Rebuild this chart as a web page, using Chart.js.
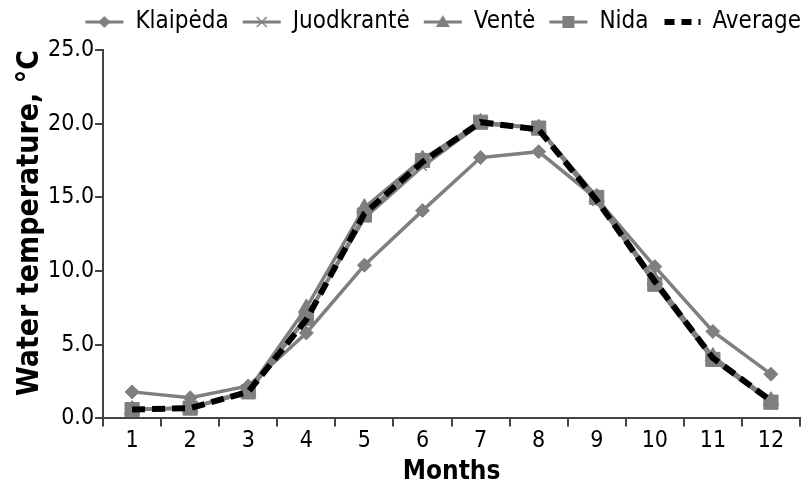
<!DOCTYPE html>
<html>
<head>
<meta charset="utf-8">
<script src="https://cdn.jsdelivr.net/npm/chart.js@4.4.1/dist/chart.umd.min.js"></script>
<style>
  html, body { margin: 0; padding: 0; background: #fff; }
  #wrap { width: 811px; height: 487px; }
</style>
</head>
<body>
<div id="wrap"><canvas id="tempChart" width="811" height="487"></canvas></div>
<script>
// data
const months = ['1', '2', '3', '4', '5', '6', '7', '8', '9', '10', '11', '12'];
const klaipeda   = [1.8, 1.4, 2.2, 5.8, 10.4, 14.1, 17.7, 18.1, 14.9, 10.3, 5.9, 3.0];
const juodkrante = [0.6, 0.7, 1.8, 6.9, 13.6, 17.1, 20.0, 19.7, 14.7, 9.3, 4.1, 1.2];
const vente      = [0.6, 0.7, 1.9, 7.5, 14.3, 17.6, 20.1, 19.7, 15.0, 9.4, 4.2, 1.2];
const nida       = [0.6, 0.7, 1.8, 6.8, 13.8, 17.5, 20.1, 19.7, 15.0, 9.1, 4.0, 1.1];
const average    = [0.6, 0.7, 1.8, 6.7, 13.9, 17.4, 20.1, 19.6, 14.8, 9.3, 4.1, 1.2];
const yTicks = [0, 5, 10, 15, 20, 25];

const GRAY = '#7f7f7f';
const AXIS = '#444';
const FONT = "'DejaVu Sans Condensed', 'DejaVu Sans', sans-serif";
const BOX_W = 44;            // legend box width reserved by Chart.js
const SYM_W = BOX_W + 4;     // symbol canvas, a bit wider than the box

// small canvas with a line + marker, used as legend symbol
function legendSymbol(style, dashed) {
    const c = document.createElement('canvas');
    c.width = SYM_W;
    c.height = 20;
    const g = c.getContext('2d');
    const x0 = SYM_W - 40, cx = x0 + 19, cy = 10;
    g.lineWidth = dashed ? 6 : 3;
    g.strokeStyle = dashed ? '#000' : GRAY;
    if (dashed) g.setLineDash([10, 7]);
    g.beginPath();
    g.moveTo(x0 + (dashed ? 2 : 0), cy);
    g.lineTo(SYM_W - 2, cy);
    g.stroke();
    g.setLineDash([]);
    g.fillStyle = GRAY;
    g.strokeStyle = GRAY;
    if (style === 'rectRot') {
        g.beginPath();
        g.moveTo(cx, cy - 6); g.lineTo(cx + 6, cy); g.lineTo(cx, cy + 6); g.lineTo(cx - 6, cy);
        g.closePath(); g.fill();
    } else if (style === 'crossRot') {
        g.lineWidth = 1.5;
        g.beginPath();
        g.moveTo(cx - 5, cy - 5); g.lineTo(cx + 5, cy + 5);
        g.moveTo(cx + 5, cy - 5); g.lineTo(cx - 5, cy + 5);
        g.stroke();
    } else if (style === 'triangle') {
        g.beginPath();
        g.moveTo(cx, cy - 7); g.lineTo(cx + 7, cy + 5); g.lineTo(cx - 7, cy + 5);
        g.closePath(); g.fill();
    } else if (style === 'rect') {
        g.fillRect(cx - 6, cy - 6, 12, 12);
    }
    return c;
}

function series(label, data, pointStyle, radius, order) {
    return {
        label: label,
        data: data,
        borderColor: GRAY,
        backgroundColor: GRAY,
        borderWidth: 3.5,
        pointStyle: pointStyle,
        pointRadius: radius,
        pointBorderWidth: pointStyle === 'crossRot' ? 1.5 : 1,
        pointBackgroundColor: GRAY,
        pointBorderColor: GRAY,
        legendSymbol: legendSymbol(pointStyle, false),
        tension: 0,
        order: order
    };
}

const datasets = [
    series('Klaipėda', klaipeda, 'rectRot', 7, 4),
    series('Juodkrantė', juodkrante, 'crossRot', 6, 3),
    series('Ventė', vente, 'triangle', 9, 2),
    series('Nida', nida, 'rect', 10, 1),
    {
        label: 'Average',
        data: average,
        borderColor: '#000',
        backgroundColor: '#000',
        borderWidth: 6,
        borderDash: [13, 7],
        pointRadius: 0,
        legendSymbol: legendSymbol(null, true),
        tension: 0,
        order: 0
    }
];

// extra space under the legend
const legendMargin = {
    id: 'legendMargin',
    beforeInit(chart) {
        const fit = chart.legend.fit;
        chart.legend.fit = function () {
            fit.bind(chart.legend)();
            this.height += 6;
        };
    }
};

new Chart(document.getElementById('tempChart'), {
    type: 'line',
    data: {
        labels: months,
        datasets: datasets
    },
    plugins: [legendMargin],
    options: {
        responsive: false,
        animation: false,
        layout: {
            padding: { left: 15, right: 2, top: 2, bottom: 2 }
        },
        plugins: {
            legend: {
                position: 'top',
                align: 'end',
                labels: {
                    usePointStyle: true,
                    pointStyleWidth: BOX_W,
                    padding: 8,
                    color: '#000',
                    font: { family: FONT, size: 24 },
                    generateLabels: function (chart) {
                        return chart.data.datasets.map((ds, i) => ({
                            text: ds.label,
                            datasetIndex: i,
                            pointStyle: ds.legendSymbol,
                            fillStyle: ds.borderColor,
                            strokeStyle: ds.borderColor,
                            lineWidth: 0,
                            fontColor: '#000'
                        }));
                    }
                }
            },
            tooltip: { enabled: false }
        },
        scales: {
            x: {
                offset: true,
                grid: {
                    offset: true,
                    drawOnChartArea: false,
                    tickLength: 8,
                    color: AXIS,
                    lineWidth: 2
                },
                border: { color: AXIS, width: 2 },
                ticks: {
                    color: '#000',
                    font: { family: FONT, size: 23 },
                    padding: 1
                },
                title: {
                    display: true,
                    text: 'Months',
                    color: '#000',
                    font: { family: FONT, size: 26, weight: 'bold', lineHeight: 1.0 },
                    padding: { top: 3, bottom: 0 }
                }
            },
            y: {
                min: 0,
                max: 25,
                afterBuildTicks: function (axis) {
                    axis.ticks = yTicks.map(v => ({ value: v }));
                },
                grid: {
                    drawOnChartArea: false,
                    tickLength: 8,
                    color: AXIS,
                    lineWidth: 2
                },
                border: { color: AXIS, width: 2 },
                ticks: {
                    color: '#000',
                    font: { family: FONT, size: 23 },
                    padding: 1,
                    callback: v => v.toFixed(1)
                },
                title: {
                    display: true,
                    text: 'Water temperature, °C',
                    align: 'end',
                    color: '#000',
                    font: { family: FONT, size: 30, weight: 'bold', lineHeight: 1.0 },
                    padding: { top: 0, bottom: 2 }
                }
            }
        }
    }
});
</script>
</body>
</html>
